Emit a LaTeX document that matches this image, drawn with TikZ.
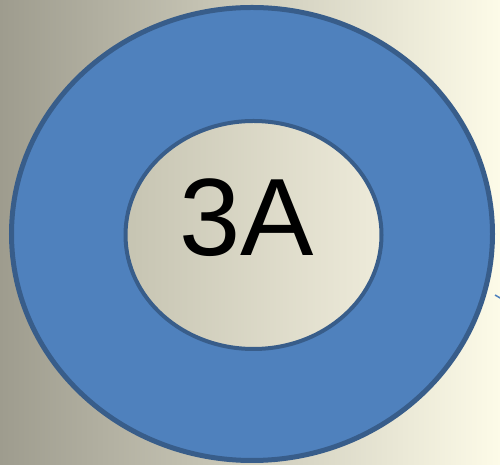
\documentclass[tikz,border=0pt]{standalone}
\usepackage{fontspec}
\setmainfont{Liberation Sans}
\usetikzlibrary{shapes.geometric}

\definecolor{ringblue}{RGB}{79,129,189}
\definecolor{ringedge}{RGB}{56,93,138}
\definecolor{bgleft}{RGB}{158,156,142}
\definecolor{bgright}{RGB}{253,251,232}
\definecolor{holeleft}{RGB}{198,196,178}
\definecolor{holeright}{RGB}{238,235,218}

\begin{document}
\begin{tikzpicture}[
    x=1pt, y=1pt,
    ringshape/.style={ellipse, draw=ringedge, line width=5pt, fill=ringblue,
      minimum width=481pt, minimum height=453pt, inner sep=0pt},
    holeshape/.style={ellipse, draw=ringedge, line width=4pt,
      shading=axis, left color=holeleft, right color=holeright,
      minimum width=256pt, minimum height=228pt, inner sep=0pt},
    lbl/.style={inner sep=0pt, font=\fontsize{110}{110}\selectfont},
    stub/.style={draw=ringblue, line width=1.5pt},
  ]

  % --- Background ---
  \shade[left color=bgleft, right color=bgright] (0,0) rectangle (500,465);
  \useasboundingbox (0,0) rectangle (500,465);

  % --- Ring ---
  \node[ringshape] (ring) at (252,231) {};
  \node[holeshape] (hole) at (253.5,230) {};
  \node[lbl] (label) at (247,247.5) {3A};

  % --- Clipped connector end ---
  \coordinate (stubA) at (495,170);
  \coordinate (stubB) at (501,166.5);
  \draw[stub] (stubA) -- (stubB);

\end{tikzpicture}
\end{document}
